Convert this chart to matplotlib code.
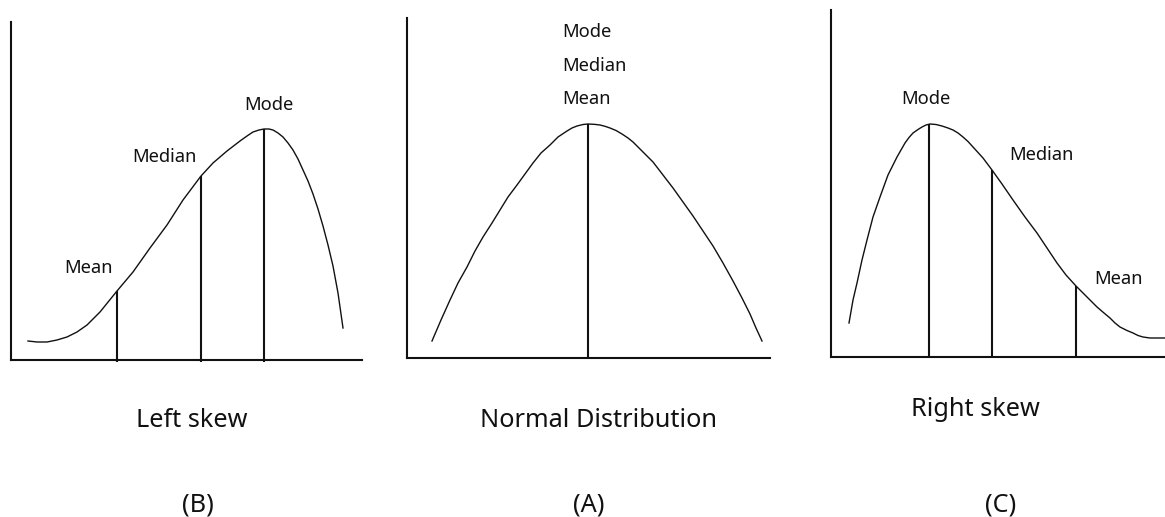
import matplotlib.pyplot as plt

W, H = 1165, 517

# curve outlines, in pixel units of the figure (y grows downward)
left_x = [28, 37, 47, 57, 67, 77, 87, 100, 117, 133, 150, 167, 183, 201, 213,
          227, 240, 247, 253, 259, 264, 269, 273, 278, 283, 288, 293, 298, 303,
          308, 313, 318, 323, 328, 333, 338, 343]
left_y = [341, 342, 342, 340, 337, 332, 325, 312, 291, 272, 248, 225, 200, 176, 163,
          151, 141, 136, 132, 130, 129, 129, 130, 133, 137, 143, 150, 159, 170,
          181, 194, 209, 226, 245, 266, 293, 328]

normal_x = [432, 441, 450, 458, 467, 475, 483, 492, 500, 508, 517, 525, 533, 541,
            550, 558, 567, 572, 577, 583, 588, 594, 600, 605, 610, 616, 622, 628,
            633, 643, 653, 663, 673, 683, 693, 703, 713, 723, 733, 742, 750, 756, 762]
normal_y = [341, 320, 300, 283, 267, 251, 237, 223, 210, 197, 185, 174, 163, 153,
            145, 137, 131, 128, 126, 124.5, 124, 124.3, 125, 126.3, 128, 130.5, 134, 138,
            142, 152, 162, 175, 188, 202, 216, 231, 246, 263, 281, 298, 314, 328, 341]

right_x = [849, 853, 857, 862, 867, 873, 880, 888, 897, 905, 909, 913, 918, 922, 926,
           930, 936, 942, 948, 953, 958, 963, 968, 973, 983, 992, 1002, 1013, 1025,
           1037, 1047, 1057, 1066, 1076, 1087, 1097, 1104, 1110, 1115, 1120, 1127,
           1133, 1138, 1143, 1150, 1165]
right_y = [323, 300, 283, 260, 240, 217, 197, 175, 157, 143, 137.5, 133, 129.5, 127,
           125, 124, 124.5, 126, 128, 130, 133, 137, 141.5, 147, 158, 170, 184, 200,
           217, 233, 248, 263, 275, 286, 297, 307, 313, 318, 323, 327, 330.5,
           333, 335.5, 337, 338, 338]

# Mean / Median / Mode positions on each curve
left_marks_x = [117, 201, 264]
left_marks_top = [291, 176, 129]
normal_marks_x = [588]
normal_marks_top = [124]
right_marks_x = [1076, 992, 929]
right_marks_top = [286, 170, 124]

titles = ['Left skew', 'Normal Distribution', 'Right skew']
letters = ['(B)', '(A)', '(C)']

ink = '#111111'
font = 'Noto Sans'
small = 13.2
big = 18.2

fig = plt.figure(figsize=(W / 100, H / 100), dpi=100)


def panel(x0, x1, ytop, ybot):
    ax = fig.add_axes([x0 / W, (H - ybot) / H, (x1 - x0) / W, (ybot - ytop) / H])
    ax.set_xlim(x0, x1)
    ax.set_ylim(ybot, ytop)
    for s in ['top', 'right']:
        ax.spines[s].set_visible(False)
    for s in ['left', 'bottom']:
        ax.spines[s].set_linewidth(1.5)
        ax.spines[s].set_color(ink)
    ax.set_xticks([])
    ax.set_yticks([])
    ax.patch.set_alpha(0)
    return ax


def draw(ax, xs, ys, mx, mtop, base):
    ax.plot(xs, ys, color=ink, lw=1.0, solid_joinstyle='round', clip_on=False)
    ax.vlines(mx, mtop, base, color=ink, lw=1.5, clip_on=False)


def label(ax, x, y, s, ha='center'):
    ax.text(x, y, s, ha=ha, va='center', fontsize=small, family=font, color=ink,
            clip_on=False)


# left skew
ax1 = panel(11, 362, 22, 360)
draw(ax1, left_x, left_y, left_marks_x, left_marks_top, 362)
label(ax1, 88, 268, 'Mean')
label(ax1, 164, 157, 'Median')
label(ax1, 269, 105, 'Mode')

# normal
ax2 = panel(407, 770, 18, 358)
draw(ax2, normal_x, normal_y, normal_marks_x, normal_marks_top, 358)
for name, yy in zip(['Mode', 'Median', 'Mean'], [32, 66, 99]):
    label(ax2, 562, yy, name, ha='left')

# right skew
ax3 = panel(831, 1165, 10, 357)
draw(ax3, right_x, right_y, right_marks_x, right_marks_top, 357)
label(ax3, 1118, 279, 'Mean')
label(ax3, 1041, 155, 'Median')
label(ax3, 926, 99, 'Mode')

# captions under each panel
for t, cx, by in zip(titles, [192, 599, 975], [427, 427, 416]):
    fig.text(cx / W, 1 - by / H, t, ha='center', va='baseline', fontsize=big,
             family=font, color=ink)
for t, cx in zip(letters, [198, 589, 1001]):
    fig.text(cx / W, 1 - 511 / H, t, ha='center', va='baseline', fontsize=big,
             family=font, color=ink)

fig.savefig('out.png', dpi=100, facecolor='white')
